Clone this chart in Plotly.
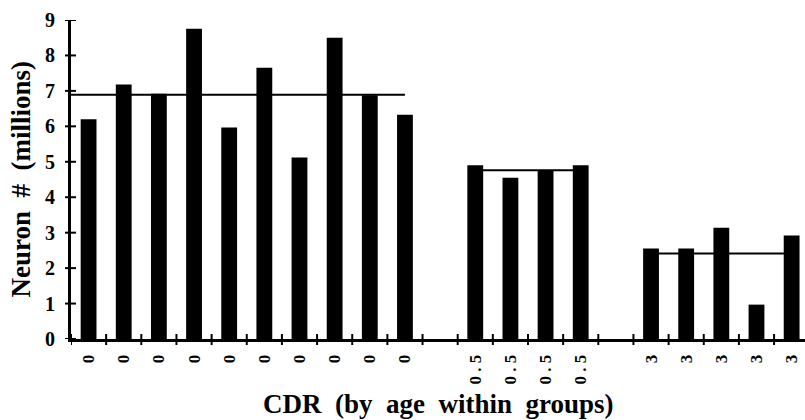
import plotly.graph_objects as go

# ---- data ----
group_labels = ["0", "0 . 5", "3"]
cdr0_values = [6.2, 7.18, 6.92, 8.75, 5.97, 7.65, 5.12, 8.5, 6.88, 6.33]
cdr05_values = [4.9, 4.55, 4.74, 4.9]
cdr3_values = [2.55, 2.55, 3.14, 0.97, 2.92]
group_means = [6.89, 4.76, 2.41]
y_ticks = [0, 1, 2, 3, 4, 5, 6, 7, 8, 9]

groups = [cdr0_values, cdr05_values, cdr3_values]
line_left_pad = [0.5, 0.0, 0.0]   # style: where each mean line starts relative to first bar
gap_slots = 1

# build positions
xs, ys, labels, mean_segments = [], [], [], []
pos = 0
for gi, vals in enumerate(groups):
    start = pos
    for v in vals:
        xs.append(pos)
        ys.append(v)
        labels.append(group_labels[gi])
        pos += 1
    end = pos - 1
    mean_segments.append((start - line_left_pad[gi], end, group_means[gi]))
    pos += gap_slots
n_slots = xs[-1] + 1
boundaries = [i - 0.5 for i in range(n_slots + 1)]

font_family = "Liberation Serif, Times New Roman, serif"
xr = [-0.5, n_slots - 0.62]
yr = [0, 9]

fig = go.Figure()
fig.add_trace(go.Bar(x=xs, y=ys, width=0.45, marker=dict(color="black", line=dict(width=0)),
                     showlegend=False, hoverinfo="skip"))

shapes = []
for x0, x1, m in mean_segments:
    shapes.append(dict(type="line", xref="x", yref="y", x0=x0, x1=x1, y0=m, y1=m,
                       line=dict(color="black", width=2), layer="below"))

# crossing tick marks: fixed pixel length, anchored at the axes (paper ref so they are not clipped)
tick_color = "black"
for b in boundaries:
    if b > xr[1]:
        continue
    shapes.append(dict(type="line", xref="x", yref="paper", x0=b, x1=b,
                       ysizemode="pixel", yanchor=0, y0=-6, y1=5,
                       line=dict(color=tick_color, width=2), layer="above"))
for t in y_ticks:
    shapes.append(dict(type="line", xref="paper", yref="y", y0=t, y1=t,
                       xsizemode="pixel", xanchor=0, x0=-6, x1=5,
                       line=dict(color=tick_color, width=2), layer="above"))

fig.update_layout(
    width=805, height=420,
    margin=dict(l=71, r=0, t=20, b=81),
    paper_bgcolor="white", plot_bgcolor="white",
    shapes=shapes,
    xaxis=dict(range=xr, tickmode="array", tickvals=xs, ticktext=labels, tickangle=-90,
               ticks="", showgrid=False, zeroline=False, showline=True, linecolor="black",
               linewidth=3, tickfont=dict(family=font_family, size=17, color="black", weight="bold"),
               ticklabelstandoff=6),
    yaxis=dict(range=yr, tickmode="array", tickvals=y_ticks, ticks="",
               showgrid=False, zeroline=False, showline=True, linecolor="black",
               linewidth=3, tickfont=dict(family=font_family, size=20, color="black", weight="bold"),
               ticklabelstandoff=9),
    annotations=[
        dict(text="Neuron\u00a0 #\u00a0 (millions)", xref="paper", yref="paper", x=0, y=0.5,
             xanchor="center", yanchor="middle", xshift=-51, textangle=-90, showarrow=False,
             font=dict(family=font_family, size=27, color="black", weight="bold")),
        dict(text="CDR\u00a0 (by\u00a0 age\u00a0 within\u00a0 groups)", xref="paper", yref="paper",
             x=0.5, y=0, xanchor="center", yanchor="middle", yshift=-65, showarrow=False,
             font=dict(family=font_family, size=27, color="black", weight="bold")),
    ],
)

fig.write_html("out.html")
